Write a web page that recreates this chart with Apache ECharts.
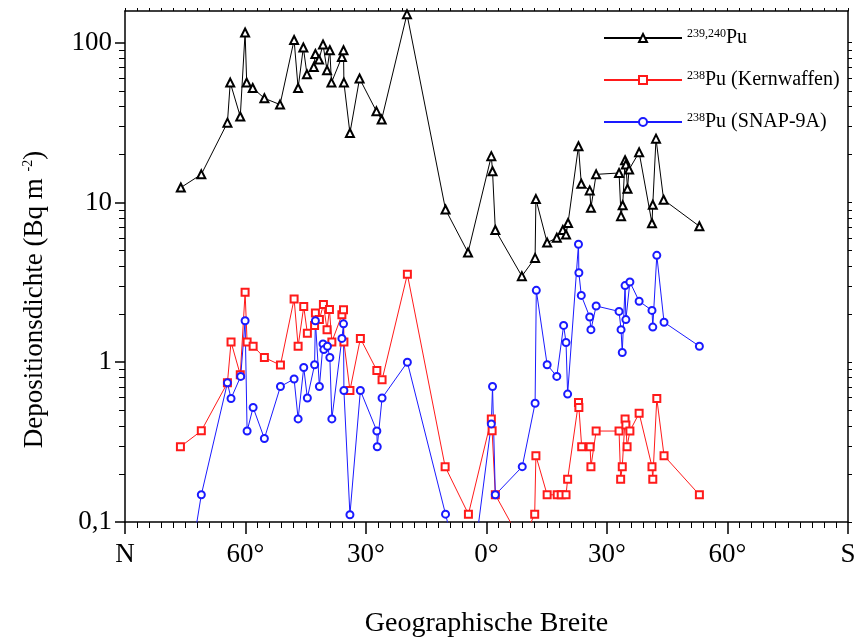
<!DOCTYPE html>
<html>
<head>
<meta charset="utf-8">
<script src="https://cdn.jsdelivr.net/npm/echarts@6/dist/echarts.min.js"></script>
<style>
html, body { margin: 0; padding: 0; background: #fff; }
#chart { width: 854px; height: 637px; }
</style>
</head>
<body>
<div id="chart"></div>
<script>
// Breite: negativ = Nord, positiv = Süd ; Werte in Bq/m2
var pu239240 = [
    [-76.1, 12.4], [-71.0, 15.0], [-64.5, 31.6], [-63.8, 56.3], [-61.3, 34.5], [-60.1, 116],
    [-59.7, 56.3], [-58.2, 52.1], [-55.3, 44.9], [-51.4, 41.0], [-47.9, 104], [-46.9, 52.1],
    [-45.6, 93.3], [-44.7, 63.5], [-43.0, 70.5], [-42.6, 85.1], [-41.7, 78.5], [-40.7, 97.5],
    [-39.7, 67.3], [-39.0, 89.8], [-38.6, 56.3], [-36.0, 81.5], [-35.6, 89.8], [-35.5, 56.3],
    [-34.0, 27.2], [-31.6, 59.7], [-27.4, 37.2], [-26.1, 33.1], [-19.8, 151], [-10.2, 9.04],
    [-4.6, 4.86], [1.2, 19.5], [1.5, 15.7], [2.2, 6.73], [8.8, 3.46], [12.1, 4.50],
    [12.3, 10.5], [15.1, 5.61], [17.5, 6.01], [19.0, 6.73], [19.8, 6.30], [20.3, 7.44],
    [22.9, 22.5], [23.6, 13.1], [25.7, 11.9], [26.0, 9.26], [27.3, 15.0], [33.0, 15.3],
    [33.5, 8.21], [33.9, 9.62], [34.5, 18.4], [34.7, 17.3], [35.1, 12.2], [35.5, 16.1],
    [38.0, 20.6], [41.2, 7.41], [41.4, 9.68], [42.2, 25.1], [44.1, 10.4], [53.0, 7.10]
];
var pu238Kernwaffen = [
    [-76.2, 0.296], [-71.0, 0.372], [-64.5, 0.743], [-63.6, 1.34], [-61.3, 0.836], [-60.1, 2.74],
    [-59.6, 1.34], [-58.1, 1.26], [-55.3, 1.07], [-51.3, 0.96], [-47.9, 2.49], [-46.9, 1.26],
    [-45.5, 2.23], [-44.6, 1.52], [-42.8, 1.70], [-42.6, 2.03], [-41.6, 1.85], [-40.6, 2.30],
    [-39.7, 1.60], [-39.1, 2.14], [-38.5, 1.34], [-36.0, 1.98], [-35.6, 2.13], [-35.5, 1.34],
    [-34.0, 0.665], [-31.4, 1.41], [-27.3, 0.889], [-26.0, 0.776], [-19.7, 3.55], [-10.3, 0.222],
    [-4.5, 0.112], [1.2, 0.441], [1.4, 0.372], [2.2, 0.148], [8.8, 0.074], [12.0, 0.112],
    [12.3, 0.260], [15.1, 0.148], [17.6, 0.148], [18.6, 0.148], [19.8, 0.148], [20.2, 0.185],
    [22.9, 0.560], [23.0, 0.521], [23.7, 0.296], [25.8, 0.296], [26.0, 0.222], [27.3, 0.371],
    [33.0, 0.371], [33.4, 0.185], [33.8, 0.222], [34.5, 0.442], [34.7, 0.405], [35.0, 0.296],
    [35.7, 0.371], [38.0, 0.480], [41.2, 0.222], [41.4, 0.185], [42.4, 0.593], [44.2, 0.260],
    [53.0, 0.148]
];
var pu238Snap = [
    [-76.1, 0.024], [-71.0, 0.148], [-64.5, 0.743], [-63.6, 0.593], [-61.2, 0.815], [-60.1, 1.82],
    [-59.6, 0.371], [-58.1, 0.521], [-55.3, 0.333], [-51.3, 0.705], [-47.9, 0.785], [-46.9, 0.442],
    [-45.5, 0.927], [-44.6, 0.597], [-42.8, 0.965], [-42.6, 1.82], [-41.6, 0.705], [-40.7, 1.30],
    [-40.5, 1.20], [-39.6, 1.26], [-39.0, 1.07], [-38.5, 0.442], [-36.0, 1.41], [-35.6, 1.74],
    [-35.5, 0.665], [-34.0, 0.111], [-31.4, 0.665], [-27.3, 0.371], [-27.2, 0.296], [-26.0, 0.597],
    [-19.7, 1.00], [-10.2, 0.112], [-4.6, 0.030], [1.2, 0.411], [1.5, 0.705], [2.2, 0.148],
    [8.9, 0.222], [12.1, 0.554], [12.4, 2.82], [15.1, 0.965], [17.5, 0.815], [19.2, 1.70],
    [19.8, 1.33], [20.2, 0.632], [22.9, 5.48], [23.0, 3.63], [23.6, 2.62], [25.7, 1.92],
    [26.0, 1.60], [27.3, 2.25], [33.0, 2.08], [33.5, 1.60], [33.8, 1.15], [34.5, 3.02],
    [34.7, 1.85], [35.7, 3.18], [38.0, 2.41], [41.2, 2.11], [41.4, 1.66], [42.4, 4.67],
    [44.2, 1.78], [53.0, 1.26]
];

var seriesNames = ['239,240Pu', '238Pu (Kernwaffen)', '238Pu (SNAP-9A)'];
var legendLabels = ['{sup|239,240}Pu', '{sup|238}Pu (Kernwaffen)', '{sup|238}Pu (SNAP-9A)'];
var decadeTicks = [0.1, 1, 10, 100];
var minorTicks = [0.2, 0.3, 0.4, 0.5, 0.6, 0.7, 0.8, 0.9, 2, 3, 4, 5, 6, 7, 8, 9, 20, 30, 40, 50, 60, 70, 80, 90];

var FONT = 'Liberation Serif';
var YMIN = 0.1, YMAX = 158;

var chart = echarts.init(document.getElementById('chart'));

function latLabel(v) {
    if (v === -90) return 'N';
    if (v === 90) return 'S';
    return Math.abs(v) + '°';
}

function makeSeries(idx, data, color, symbol, size) {
    return {
        name: seriesNames[idx],
        type: 'line',
        data: data,
        symbol: symbol,
        symbolSize: size,
        showAllSymbol: true,
        clip: true,
        color: color,
        lineStyle: { color: color, width: 1 },
        itemStyle: { color: color, borderColor: color, borderWidth: 1 },
        emphasis: { disabled: true }
    };
}

var option = {
    animation: false,
    backgroundColor: '#fff',
    grid: { left: 125, right: 6, top: 11, bottom: 115, outerBoundsMode: 'none' },
    legend: {
        orient: 'vertical',
        left: 598,
        top: 23,
        itemWidth: 78,
        itemHeight: 10,
        itemGap: 22,
        data: seriesNames,
        formatter: function (name) {
            return legendLabels[seriesNames.indexOf(name)];
        },
        textStyle: {
            fontFamily: FONT, fontSize: 20, color: '#000',
            rich: { sup: { fontFamily: FONT, fontSize: 12, verticalAlign: 'top', color: '#000' } }
        }
    },
    xAxis: [{
        type: 'value',
        min: -90, max: 90, interval: 30,
        position: 'bottom',
        name: 'Geographische Breite',
        nameLocation: 'middle',
        nameGap: 88,
        nameTextStyle: { fontFamily: FONT, fontSize: 28, color: '#000' },
        axisLine: { show: true, onZero: false, lineStyle: { color: '#000', width: 1.5 } },
        axisTick: { show: true, length: 12, lineStyle: { color: '#000', width: 1.5 } },
        minorTick: { show: true, splitNumber: 10, length: 6, lineStyle: { color: '#000', width: 1 } },
        axisLabel: { formatter: latLabel, fontFamily: FONT, fontSize: 27, color: '#000', margin: 19 },
        splitLine: { show: false }
    }, {
        type: 'value',
        min: -90, max: 90, interval: 30,
        position: 'top',
        axisLine: { show: true, onZero: false, lineStyle: { color: '#000', width: 1.5 } },
        axisTick: { show: true, length: 3, lineStyle: { color: '#000', width: 1 } },
        minorTick: { show: true, splitNumber: 10, length: 3, lineStyle: { color: '#000', width: 1 } },
        axisLabel: { show: false },
        splitLine: { show: false }
    }],
    yAxis: [{
        type: 'log', logBase: 10,
        min: YMIN, max: YMAX,
        position: 'left',
        name: 'Depositionsdichte (Bq m {sup|-2})',
        nameLocation: 'middle',
        nameRotate: 90,
        nameGap: 77,
        nameTextStyle: {
            fontFamily: FONT, fontSize: 27, color: '#000',
            padding: [0, 66, 0, 0],
            rich: { sup: { fontFamily: FONT, fontSize: 14, verticalAlign: 'top', color: '#000' } }
        },
        axisLine: { show: true, onZero: false, lineStyle: { color: '#000', width: 1.5 } },
        axisTick: { show: true, length: 10, customValues: decadeTicks, lineStyle: { color: '#000', width: 1.5 } },
        axisLabel: {
            customValues: decadeTicks,
            formatter: function (v) { return String(v).replace('.', ','); },
            fontFamily: FONT, fontSize: 27, color: '#000', margin: 13
        },
        splitLine: { show: false }
    }, {
        type: 'log', logBase: 10,
        min: YMIN, max: YMAX,
        position: 'left',
        axisLine: { show: false, onZero: false },
        axisTick: { show: true, length: 6, customValues: minorTicks, lineStyle: { color: '#000', width: 1 } },
        axisLabel: { show: false },
        splitLine: { show: false }
    }, {
        type: 'log', logBase: 10,
        min: YMIN, max: YMAX,
        position: 'right',
        axisLine: { show: true, onZero: false, lineStyle: { color: '#000', width: 1.5 } },
        axisTick: { show: true, length: 4, customValues: decadeTicks.concat(minorTicks), lineStyle: { color: '#000', width: 1 } },
        axisLabel: { show: false },
        splitLine: { show: false }
    }],
    series: [
        makeSeries(0, pu239240, '#000000', 'emptyTriangle', 8),
        makeSeries(1, pu238Kernwaffen, '#ff1a1a', 'emptyRect', 7),
        makeSeries(2, pu238Snap, '#1a1aff', 'emptyCircle', 7)
    ]
};

chart.setOption(option);
</script>
</body>
</html>
